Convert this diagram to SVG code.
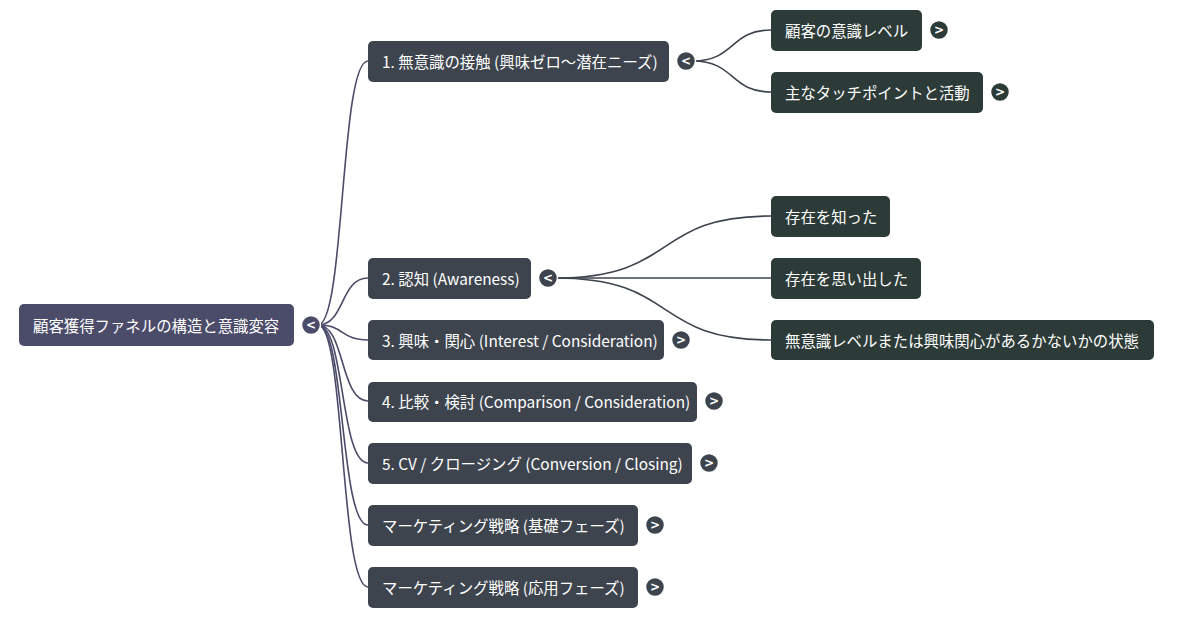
<svg xmlns="http://www.w3.org/2000/svg" width="1200" height="619" viewBox="0 0 1200 619">
<style>
text{font-family:"Noto Sans CJK JP","Noto Sans",sans-serif;font-size:15.4px;fill:#ffffff;dominant-baseline:central}
.root rect{fill:#4b4b6a}
.l1 rect{fill:#3d444e}
.l2 rect{fill:#2d3b38}
.tg circle{stroke:#ffffff;stroke-width:1.5}
.tg text{font-family:"DejaVu Sans",sans-serif;font-size:12px;font-weight:bold;text-anchor:middle}
.c0{fill:none;stroke:#4b4b6a;stroke-width:1.6}
.c1{fill:none;stroke:#3d444e;stroke-width:1.6}
</style>
<rect width="1200" height="619" fill="#ffffff"/>
<g id="connectors">
<path class="c0" d="M318,325 C345,325 340,61 368,61"/>
<path class="c0" d="M318,325 C345,325 340,278 368,278"/>
<path class="c0" d="M318,325 C345,325 340,340 368,340"/>
<path class="c0" d="M318,325 C345,325 340,401 368,401"/>
<path class="c0" d="M318,325 C345,325 340,463 368,463"/>
<path class="c0" d="M318,325 C345,325 340,525 368,525"/>
<path class="c0" d="M318,325 C345,325 340,587 368,587"/>
<path class="c1" d="M693,61 C735,61 730,30 771,30"/>
<path class="c1" d="M693,61 C735,61 730,92 771,92"/>
<path class="c1" d="M555,278 C680,278 650,216 771,216"/>
<path class="c1" d="M555,278 L771,278"/>
<path class="c1" d="M555,278 C680,278 650,340 771,340"/>
</g>
<g id="root" class="root">
<rect x="19" y="304" width="275" height="42" rx="5"/>
<text x="33" y="324.5">顧客獲得ファネルの構造と意識変容</text>
<g class="tg"><circle cx="311" cy="325" r="9.5" fill="#4b4b6a"/><text x="311" y="325">&lt;</text></g>
</g>
<g id="n1" class="l1">
<rect x="368" y="41" width="301" height="41" rx="5"/>
<text x="382" y="60.5">1. 無意識の接触 (興味ゼロ〜潜在ニーズ)</text>
<g class="tg"><circle cx="686" cy="61" r="9.5" fill="#3d444e"/><text x="686" y="61">&lt;</text></g>
</g>
<g id="n2" class="l1">
<rect x="368" y="258" width="163" height="41" rx="5"/>
<text x="382" y="277.5">2. 認知 (Awareness)</text>
<g class="tg"><circle cx="548" cy="278" r="9.5" fill="#3d444e"/><text x="548" y="278">&lt;</text></g>
</g>
<g id="n3" class="l1">
<rect x="368" y="320" width="296" height="40" rx="5"/>
<text x="382" y="339.5">3. 興味・関心 (Interest / Consideration)</text>
<g class="tg"><circle cx="681" cy="340" r="9.5" fill="#3d444e"/><text x="681" y="340">&gt;</text></g>
</g>
<g id="n4" class="l1">
<rect x="368" y="382" width="329" height="40" rx="5"/>
<text x="382" y="401">4. 比較・検討 (Comparison / Consideration)</text>
<g class="tg"><circle cx="714" cy="401" r="9.5" fill="#3d444e"/><text x="714" y="401">&gt;</text></g>
</g>
<g id="n5" class="l1">
<rect x="368" y="443" width="324" height="41" rx="5"/>
<text x="382" y="462.5">5. CV / クロージング (Conversion / Closing)</text>
<g class="tg"><circle cx="709" cy="463" r="9.5" fill="#3d444e"/><text x="709" y="463">&gt;</text></g>
</g>
<g id="n6" class="l1">
<rect x="368" y="505" width="270" height="41" rx="5"/>
<text x="382" y="524.5">マーケティング戦略 (基礎フェーズ)</text>
<g class="tg"><circle cx="655" cy="525" r="9.5" fill="#3d444e"/><text x="655" y="525">&gt;</text></g>
</g>
<g id="n7" class="l1">
<rect x="368" y="567" width="270" height="41" rx="5"/>
<text x="382" y="586.5">マーケティング戦略 (応用フェーズ)</text>
<g class="tg"><circle cx="655" cy="587" r="9.5" fill="#3d444e"/><text x="655" y="587">&gt;</text></g>
</g>
<g id="n1a" class="l2">
<rect x="771" y="10" width="151" height="41" rx="5"/>
<text x="785" y="29.5">顧客の意識レベル</text>
<g class="tg"><circle cx="939" cy="30" r="9.5" fill="#2d3b38"/><text x="939" y="30">&gt;</text></g>
</g>
<g id="n1b" class="l2">
<rect x="771" y="72" width="212" height="41" rx="5"/>
<text x="785" y="91.5">主なタッチポイントと活動</text>
<g class="tg"><circle cx="1000" cy="92" r="9.5" fill="#2d3b38"/><text x="1000" y="92">&gt;</text></g>
</g>
<g id="n2a" class="l2">
<rect x="771" y="196" width="119" height="41" rx="5"/>
<text x="785" y="215.5">存在を知った</text>
</g>
<g id="n2b" class="l2">
<rect x="771" y="258" width="150" height="41" rx="5"/>
<text x="785" y="277.5">存在を思い出した</text>
</g>
<g id="n2c" class="l2">
<rect x="771" y="320" width="383" height="40" rx="5"/>
<text x="785" y="339.5">無意識レベルまたは興味関心があるかないかの状態</text>
</g>
</svg>
